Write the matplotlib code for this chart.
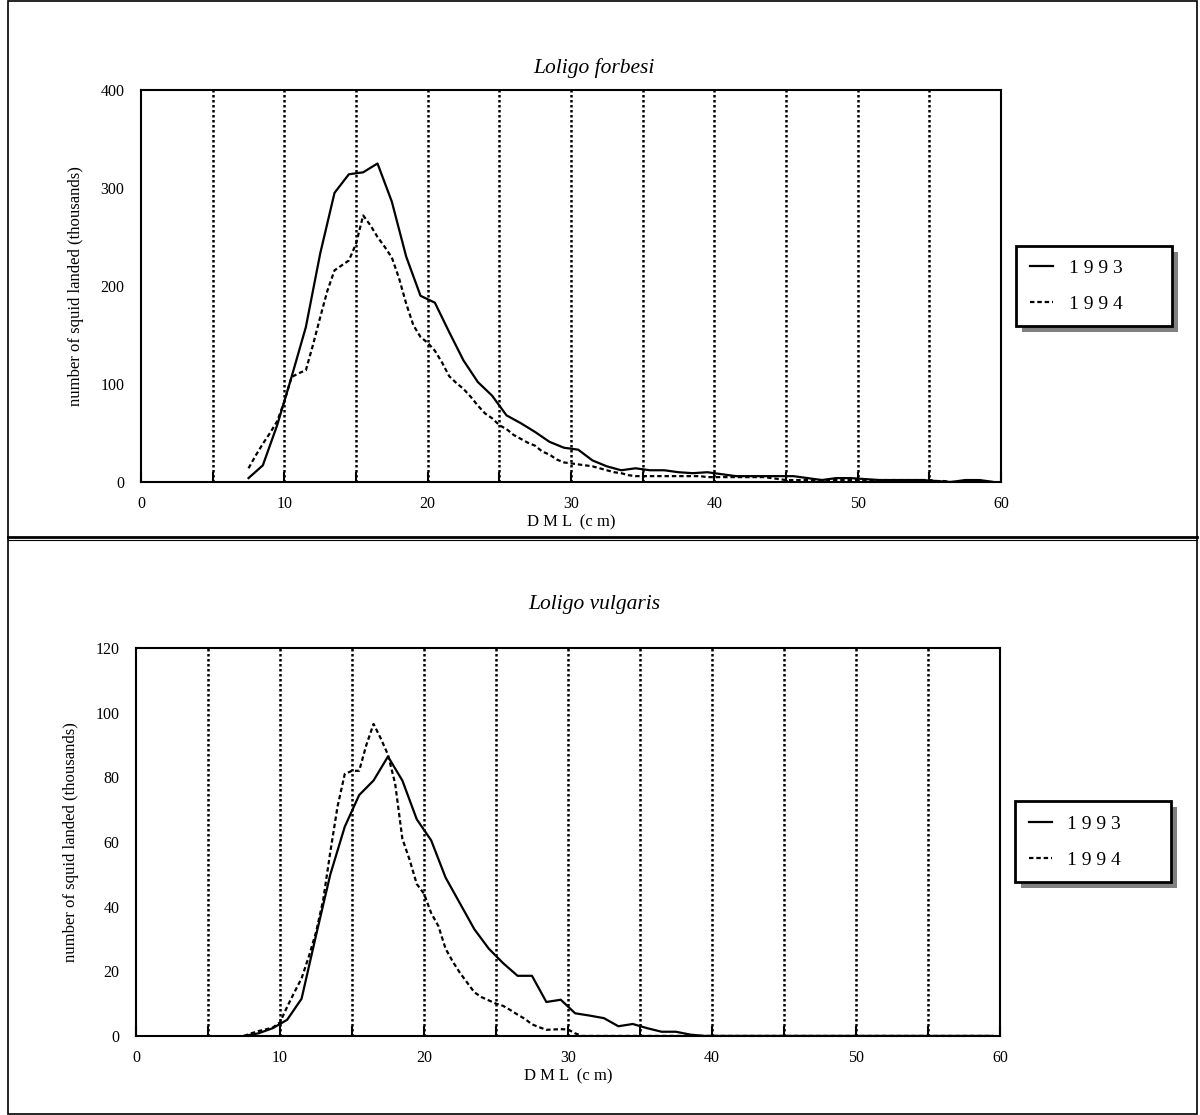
import numpy as np
import matplotlib
matplotlib.use('Agg')
from matplotlib import pyplot as plt
from matplotlib.lines import Line2D
from matplotlib.patches import Rectangle
from matplotlib.transforms import IdentityTransform

plt.rcParams['font.family'] = ['Liberation Serif', 'DejaVu Serif']

# %%
# 체장(DML) 구간 : 1993 은 1 cm, 1994 는 0.5 cm 간격
dml_93 = np.arange(7.5, 60, 1.0)
dml_94 = np.arange(7.5, 60, 0.5)

# Loligo forbesi (천 마리)
forbesi_93 = [4, 17, 58, 107, 158, 233, 295, 314, 316, 325,
              286, 230, 190, 183, 153, 124, 102, 88, 68, 60,
              51, 41, 35, 33, 22, 16, 12, 14, 12, 12,
              10, 9, 10, 8, 6, 6, 6, 6, 6, 4,
              2, 4, 4, 3, 2, 2, 2, 2, 1, 0,
              2, 2, 0]
forbesi_94 = [14, 27, 39, 50, 62, 82, 107, 111, 114, 140,
              168, 195, 216, 221, 226, 243, 272, 262, 250, 240,
              229, 208, 182, 160, 148, 142, 134, 122, 108, 101,
              95, 87, 78, 70, 65, 58, 54, 48, 44, 40,
              37, 31, 28, 23, 20, 19, 18, 17, 16, 14,
              12, 10, 9, 7, 6, 6, 6, 6, 6, 6,
              6, 6, 6, 6, 5, 5, 5, 5, 5, 5,
              5, 5, 5, 4, 3, 2, 2, 2, 2, 2,
              2, 2, 2, 2, 2, 2, 2, 2, 2, 2,
              2, 2, 2, 2, 2, 2, 1, 1, 0, 0,
              0, 0, 0, 0, 0]

# Loligo vulgaris (천 마리)
vulgaris_93 = [0, 0.8, 2.4, 5, 11.5, 31, 50, 64.7, 74.5, 79,
               86.4, 79, 67, 60.5, 49, 41, 33, 27, 22.5, 18.6,
               18.6, 10.5, 11.2, 7, 6.3, 5.5, 3, 3.7, 2.4, 1.3,
               1.3, 0.4, 0, 0, 0, 0, 0, 0, 0, 0,
               0, 0, 0, 0, 0, 0, 0, 0, 0, 0,
               0, 0, 0]
vulgaris_94 = [0, 0.8, 1.5, 2, 2.6, 4.2, 9, 13.5, 17.8, 24.5,
               32, 42, 57, 71, 81, 82, 82, 90, 96.5, 92,
               87, 78, 61, 54.5, 47, 44, 38, 34, 27, 23,
               19.5, 16.5, 13.5, 12, 11, 10, 9.3, 8, 6.6, 5.3,
               3.6, 2.7, 1.9, 2, 2.1, 2, 0.8, 0, 0, 0,
               0, 0, 0, 0, 0, 0, 0, 0, 0, 0,
               0, 0, 0, 0, 0, 0, 0, 0, 0, 0,
               0, 0, 0, 0, 0, 0, 0, 0, 0, 0,
               0, 0, 0, 0, 0, 0, 0, 0, 0, 0,
               0, 0, 0, 0, 0, 0, 0, 0, 0, 0,
               0, 0, 0, 0, 0]

years = ['1993', '1994']
x_ticks = [0, 10, 20, 30, 40, 50, 60]
grid_x = [5, 10, 15, 20, 25, 30, 35, 40, 45, 50, 55]

# %%
fig = plt.figure(figsize=(12, 11.15), dpi=100)

panels = [
    ('Loligo forbesi', forbesi_93, forbesi_94, [0, 100, 200, 300, 400],
     [0.1175, 0.5677, 0.7167, 0.3516], 0.939),
    ('Loligo vulgaris', vulgaris_93, vulgaris_94, [0, 20, 40, 60, 80, 100, 120],
     [0.1133, 0.0709, 0.7200, 0.3480], 0.458),
]

legends = []
for title, y93, y94, yt, pos, ty in panels:
    ax = fig.add_axes(pos)
    for g in grid_x:
        ax.axvline(g, color='black', lw=1.8, ls=(0, (1, 1)), zorder=1)
    ax.plot(dml_93, y93, color='black', lw=1.6, zorder=3)
    ax.plot(dml_94, y94, color='black', lw=1.6, ls=(0, (2, 1.3)), zorder=3)
    ax.set_xlim(0, 60)
    ax.set_ylim(yt[0], yt[-1])
    ax.set_xticks(x_ticks)
    ax.set_xticks(grid_x, minor=True)
    ax.set_yticks(yt)
    ax.tick_params(axis='x', which='both', direction='in', length=7, width=1.5,
                   labelsize=11.5, pad=10)
    ax.tick_params(axis='y', length=0, labelsize=11.5, pad=12)
    for s in ax.spines.values():
        s.set_linewidth(1.5)
    ax.set_xlabel('D M L  (c m)', fontsize=12, labelpad=2)
    ax.set_ylabel('number of squid landed (thousands)', fontsize=12, labelpad=12)
    fig.text(0.495, ty, title, style='italic', fontsize=15.5, ha='center', va='center')

    # 범례 : 축 오른쪽, 폭 고정
    h = [Line2D([], [], color='black', lw=1.6),
         Line2D([], [], color='black', lw=1.6, ls=(0, (2, 1.3)))]
    w = 156 / (pos[2] * 1200)
    leg = ax.legend(h, [' '.join(y) for y in years], loc='center',
                    bbox_to_anchor=(1.0174, 0.3, w, 0.4), mode='expand',
                    fontsize=14, frameon=True, fancybox=False, framealpha=1,
                    handlelength=1.2, handletextpad=0.8, borderpad=0.7,
                    labelspacing=0.95, borderaxespad=0)
    leg.get_frame().set_edgecolor('black')
    leg.get_frame().set_facecolor('white')
    leg.get_frame().set_linewidth(2)
    legends.append((ax, leg))

# 범례 그림자 (회색, 오른쪽 아래)
fig.canvas.draw()
for ax, leg in legends:
    bb = leg.get_window_extent()
    ax.add_patch(Rectangle((bb.x0 + 6, bb.y0 - 6), bb.width, bb.height,
                           transform=IdentityTransform(), facecolor='#808080',
                           edgecolor='none', zorder=4, clip_on=False))

# 바깥 테두리와 구분선
W, H = 1200, 1115
fig.add_artist(Rectangle((8 / W, 1 / H), 1189 / W, 1113 / H, transform=fig.transFigure,
                         fill=False, edgecolor='black', lw=1.2))
fig.add_artist(Line2D([8 / W, 1197 / W], [1 - 537 / H] * 2, transform=fig.transFigure,
                      color='black', lw=2))
fig.add_artist(Line2D([8 / W, 1197 / W], [1 - 540 / H] * 2, transform=fig.transFigure,
                      color='black', lw=0.8))

plt.savefig('out.png', dpi=100)
